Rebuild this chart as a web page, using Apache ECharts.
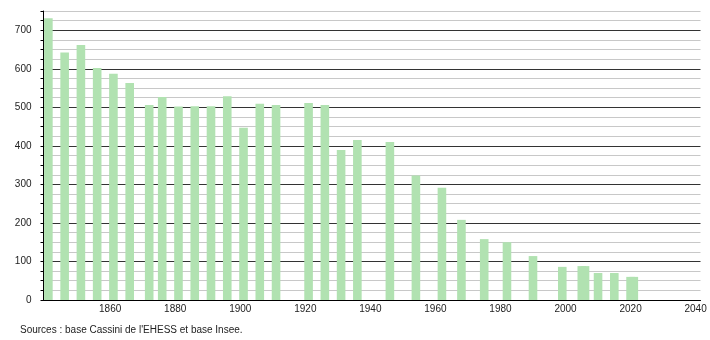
<!DOCTYPE html>
<html><head><meta charset="utf-8">
<script src="https://cdn.jsdelivr.net/npm/echarts@6/dist/echarts.min.js"></script>
<style>html,body{margin:0;padding:0;background:#fff}#c{width:710px;height:340px}</style>
</head><body><div id="c"></div>
<script>
const years = [1841,1846,1851,1856,1861,1866,1872,1876,1881,1886,1891,1896,1901,1906,1911,1921,1926,1931,1936,1946,1954,1962,1968,1975,1982,1990,1999,2005,2006,2010,2015,2020,2021];
const population = [731,642,662,602,587,563,506,527,502,503,503,529,447,509,506,511,506,389,415,410,323,291,208,158,150,114,86,88,88,70,70,60,60];
const xTickLabels = [1860,1880,1900,1920,1940,1960,1980,2000,2020,2040];
const sourceText = "Sources : base Cassini de l'EHESS et base Insee.";

const chart = echarts.init(document.getElementById('c'), null, {renderer:'canvas'});
chart.setOption({
  animation: false,
  backgroundColor: '#fff',
  textStyle: {fontFamily: 'Liberation Sans, Arial, sans-serif'},
  title: {text: sourceText, left: 20, top: 325, padding: 0, textStyle: {fontSize: 10, fontWeight: 'normal', color: '#222', fontFamily: 'Liberation Sans, Arial, sans-serif'}},
  grid: {left: 43.5, right: 9.5, top: 11, bottom: 40, containLabel: false},
  xAxis: {
    type: 'value', min: 1839.5, max: 2041.5,
    axisLine: {show: true, lineStyle: {color: '#000', width: 1}},
    axisTick: {show: false},
    splitLine: {show: false},
    axisLabel: {customValues: xTickLabels, fontSize: 10, color: '#222', margin: 4, formatter: v => String(v)}
  },
  yAxis: {
    type: 'value', min: 0, max: 750, interval: 25,
    axisLine: {show: true, lineStyle: {color: '#000', width: 1}},
    axisTick: {show: true, length: 3, lineStyle: {color: '#000'}},
    splitLine: {show: true, lineStyle: {color: ['#333','#c8c8c8','#c8c8c8','#c8c8c8'], width: 1}},
    axisLabel: {fontSize: 10, color: '#222', margin: 12, formatter: v => (v % 100 === 0 ? String(v) : '')}
  },
  series: [{
    type: 'bar',
    barWidth: 8.6,
    itemStyle: {color: '#b1e2b1'},
    data: years.map((y, i) => [y, population[i]])
  }]
});
</script></body></html>
